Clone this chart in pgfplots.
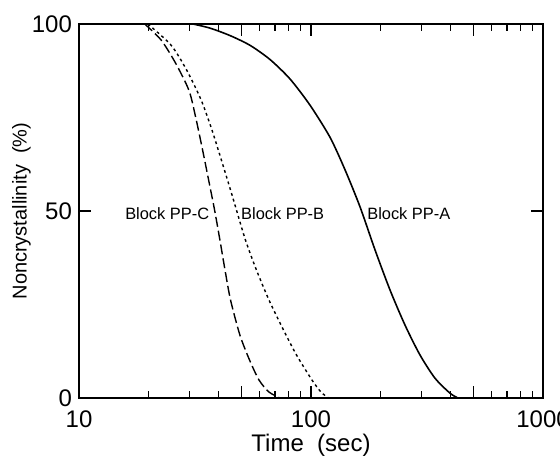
\documentclass[border=0pt]{standalone}
\usepackage{fontspec}
\setmainfont{Liberation Sans}
\setsansfont{Liberation Sans}
\usepackage{pgfplots}
\pgfplotsset{compat=1.18}

\begin{document}
\begin{tikzpicture}
\begin{axis}[
    at={(0,0)}, anchor=south west,
    scale only axis,
    width=232pt, height=187pt,
    xmode=log,
    xmin=10, xmax=1000,
    ymin=0, ymax=100,
    xtick={10,100,1000},
    xticklabels={10,100,1000},
    minor xtick={20,30,40,60,70,80,90,200,300,400,600,700,800,900},
    extra x ticks={50,500},
    extra x tick labels={},
    ytick={0,50,100},
    tick align=inside,
    major tick length=6pt,
    minor tick length=3.5pt,
    axis line style={line width=1.1pt},
    every tick/.style={black, line width=0.6pt},
    /pgf/number format/assume math mode=true,
    tick label style={font=\fontsize{12}{14}\selectfont},
    xticklabel style={yshift=-3pt},
    xlabel={Time\ \ (sec)},
    ylabel={Noncrystallinity\ \ (\%)},
    label style={font=\fontsize{12}{14}\selectfont},
    xlabel style={yshift=4pt},
    every axis y label/.style={at={(axis description cs:-0.124,0.5)}, anchor=center, rotate=90},
    clip=false,
]
% Block PP-A (solid)
\addplot[black, line width=0.8pt, smooth, tension=0.45] coordinates {
    (31,100) (36.7,98.9) (44.8,96.9) (54.6,94.3) (66.6,90.5) (81.2,85.3)
    (99.0,78.3) (120.8,69.7) (140.2,61.0) (162.7,51.1) (188.8,39.6)
    (219.0,28.9) (254.2,19.5) (295.0,11.5) (342.3,5.3) (397.2,1.3) (430,0)
};
% Block PP-B (dotted)
\addplot[black, line width=0.7pt, smooth, tension=0.45, dash pattern=on 1.4pt off 1.6pt] coordinates {
    (19.8,100) (24.9,94.4) (29.1,87.7) (33.6,79.7) (37.4,71.7) (41.1,63.6)
    (45.0,55.6) (47.7,50.3) (52.2,42.2) (58.2,34.2) (65.9,26.2) (76.1,18.2)
    (86.6,11.5) (101,4.8) (110.4,1.6) (119,0)
};
% Block PP-C (dashed)
\addplot[black, line width=0.7pt, smooth, tension=0.45, dash pattern=on 5pt off 2pt] coordinates {
    (19.2,100) (22.6,95.7) (26.1,89.5) (29.8,82.2) (31.9,74.8) (34.1,66.3)
    (36.2,58.3) (38.4,50.3) (40.5,42.2) (42.6,34.2) (45.0,26.2) (49.4,16.8)
    (54.3,10.2) (59.7,4.8) (65.9,1.6) (73.5,0)
};
\node[font=\fontsize{8.2}{10}\selectfont] at (axis cs:24.0,49.3) {Block PP-C};
\node[font=\fontsize{8.2}{10}\selectfont] at (axis cs:75.5,49.3) {Block PP-B};
\node[font=\fontsize{8.2}{10}\selectfont] at (axis cs:264,49.3) {Block PP-A};
\end{axis}
\pgfresetboundingbox
\useasboundingbox (-39.5pt,-29pt) rectangle (240.5pt,199pt);
\end{tikzpicture}
\end{document}
